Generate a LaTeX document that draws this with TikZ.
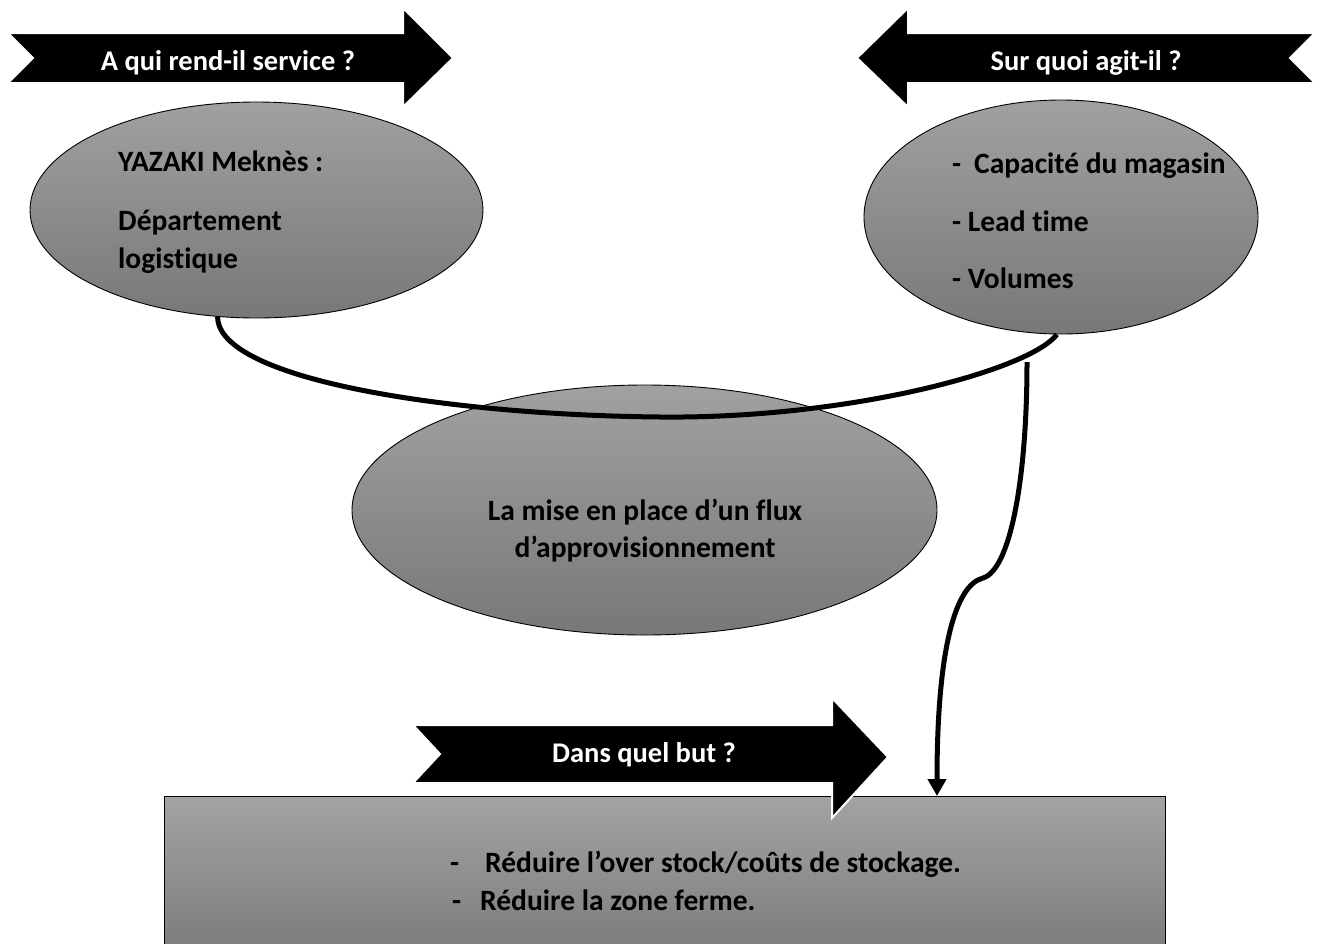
\documentclass[tikz,border=0pt]{standalone}
\usepackage{fontspec}
\setmainfont{Carlito}[Ligatures=NoCommon]
\usetikzlibrary{shapes.geometric,arrows.meta}
\begin{document}
\begin{tikzpicture}[x=1pt,y=-1pt,
  banner/.style={fill=black,draw=white,line width=2pt,line join=miter},
  bannertext/.style={text=white,font=\bfseries\fontsize{28.5}{34}\selectfont,anchor=base,inner sep=0pt},
  bubble/.style={ellipse,draw=black,line width=0.9pt,top color=black!37,bottom color=black!53,inner sep=0pt},
  goalbox/.style={rectangle,draw=black,line width=0.9pt,top color=black!36,bottom color=black!51,inner sep=0pt},
  txt/.style={font=\bfseries\fontsize{29.5}{35}\selectfont,anchor=base west,inner sep=0pt},
  ctxt/.style={font=\bfseries\fontsize{29.5}{35}\selectfont,anchor=base,inner sep=0pt},
  link/.style={line width=5pt,draw=black,line cap=butt}
]
\useasboundingbox (0,0) rectangle (1320,943);

% ellipses
\node[bubble,minimum width=453pt,minimum height=216pt] (who) at (256.5,210) {};
\node[bubble,minimum width=394pt,minimum height=234pt] (what) at (1061,217) {};
\node[bubble,minimum width=585pt,minimum height=250pt] (flux) at (644.5,510) {};

% goal box
\node[goalbox,minimum width=1001pt,minimum height=152pt] (goal) at (664.5,872) {};

% banner arrows
\draw[banner] (8,33) -- (403,33) -- (403,8) -- (453,58) -- (403,107) -- (403,83) -- (8,83) -- (33,58) -- cycle;
\node[bannertext] (q1) at (228,70) {A qui rend-il service ?};

\draw[banner] (1315,33) -- (908,33) -- (908,8) -- (857,58) -- (908,107) -- (908,83) -- (1315,83) -- (1290,58) -- cycle;
\node[bannertext] (q2) at (1086,70) {Sur quoi agit-il ?};

\draw[banner] (413,725) -- (832,725) -- (832,698) -- (888,757) -- (832,818) -- (832,783) -- (413,783) -- (440,754) -- cycle;
\node[bannertext] (q3) at (644,762) {Dans quel but ?};

% texts
\node[txt] (w1) at (118,171) {YAZAKI Meknès :};
\node[txt] (w2) at (118,230) {Département};
\node[txt] (w3) at (118,268) {logistique};

\node[txt] (a1) at (952,173) {-\hspace{13pt}Capacité du magasin};
\node[txt] (a2) at (952,231) {- Lead time};
\node[txt] (a3) at (952,288) {- Volumes};

\node[ctxt] (f1) at (645,520) {La mise en place d’un flux};
\node[ctxt] (f2) at (645,557) {d’approvisionnement};

\node[txt] (g1d) at (450,872) {-};
\node[txt] (g1) at (485,872) {Réduire l’over stock/coûts de stockage.};
\node[txt] (g2d) at (452,910) {-};
\node[txt] (g2) at (480,910) {Réduire la zone ferme.};

% connectors
\draw[link] (who.250) .. controls (218,380) and (450,415) .. (660,417)
            .. controls (850,419) and (1030,370) .. (what.268);

\coordinate (cstart) at (1027,362);
\coordinate (cend) at (937,796);
\draw[link,-{Triangle[width=18pt,length=17pt]}] (cstart)
   .. controls (1027,480) and (1010,570) .. (983,578)
   .. controls (955,585) and (937,650) .. (cend);
\end{tikzpicture}
\end{document}
